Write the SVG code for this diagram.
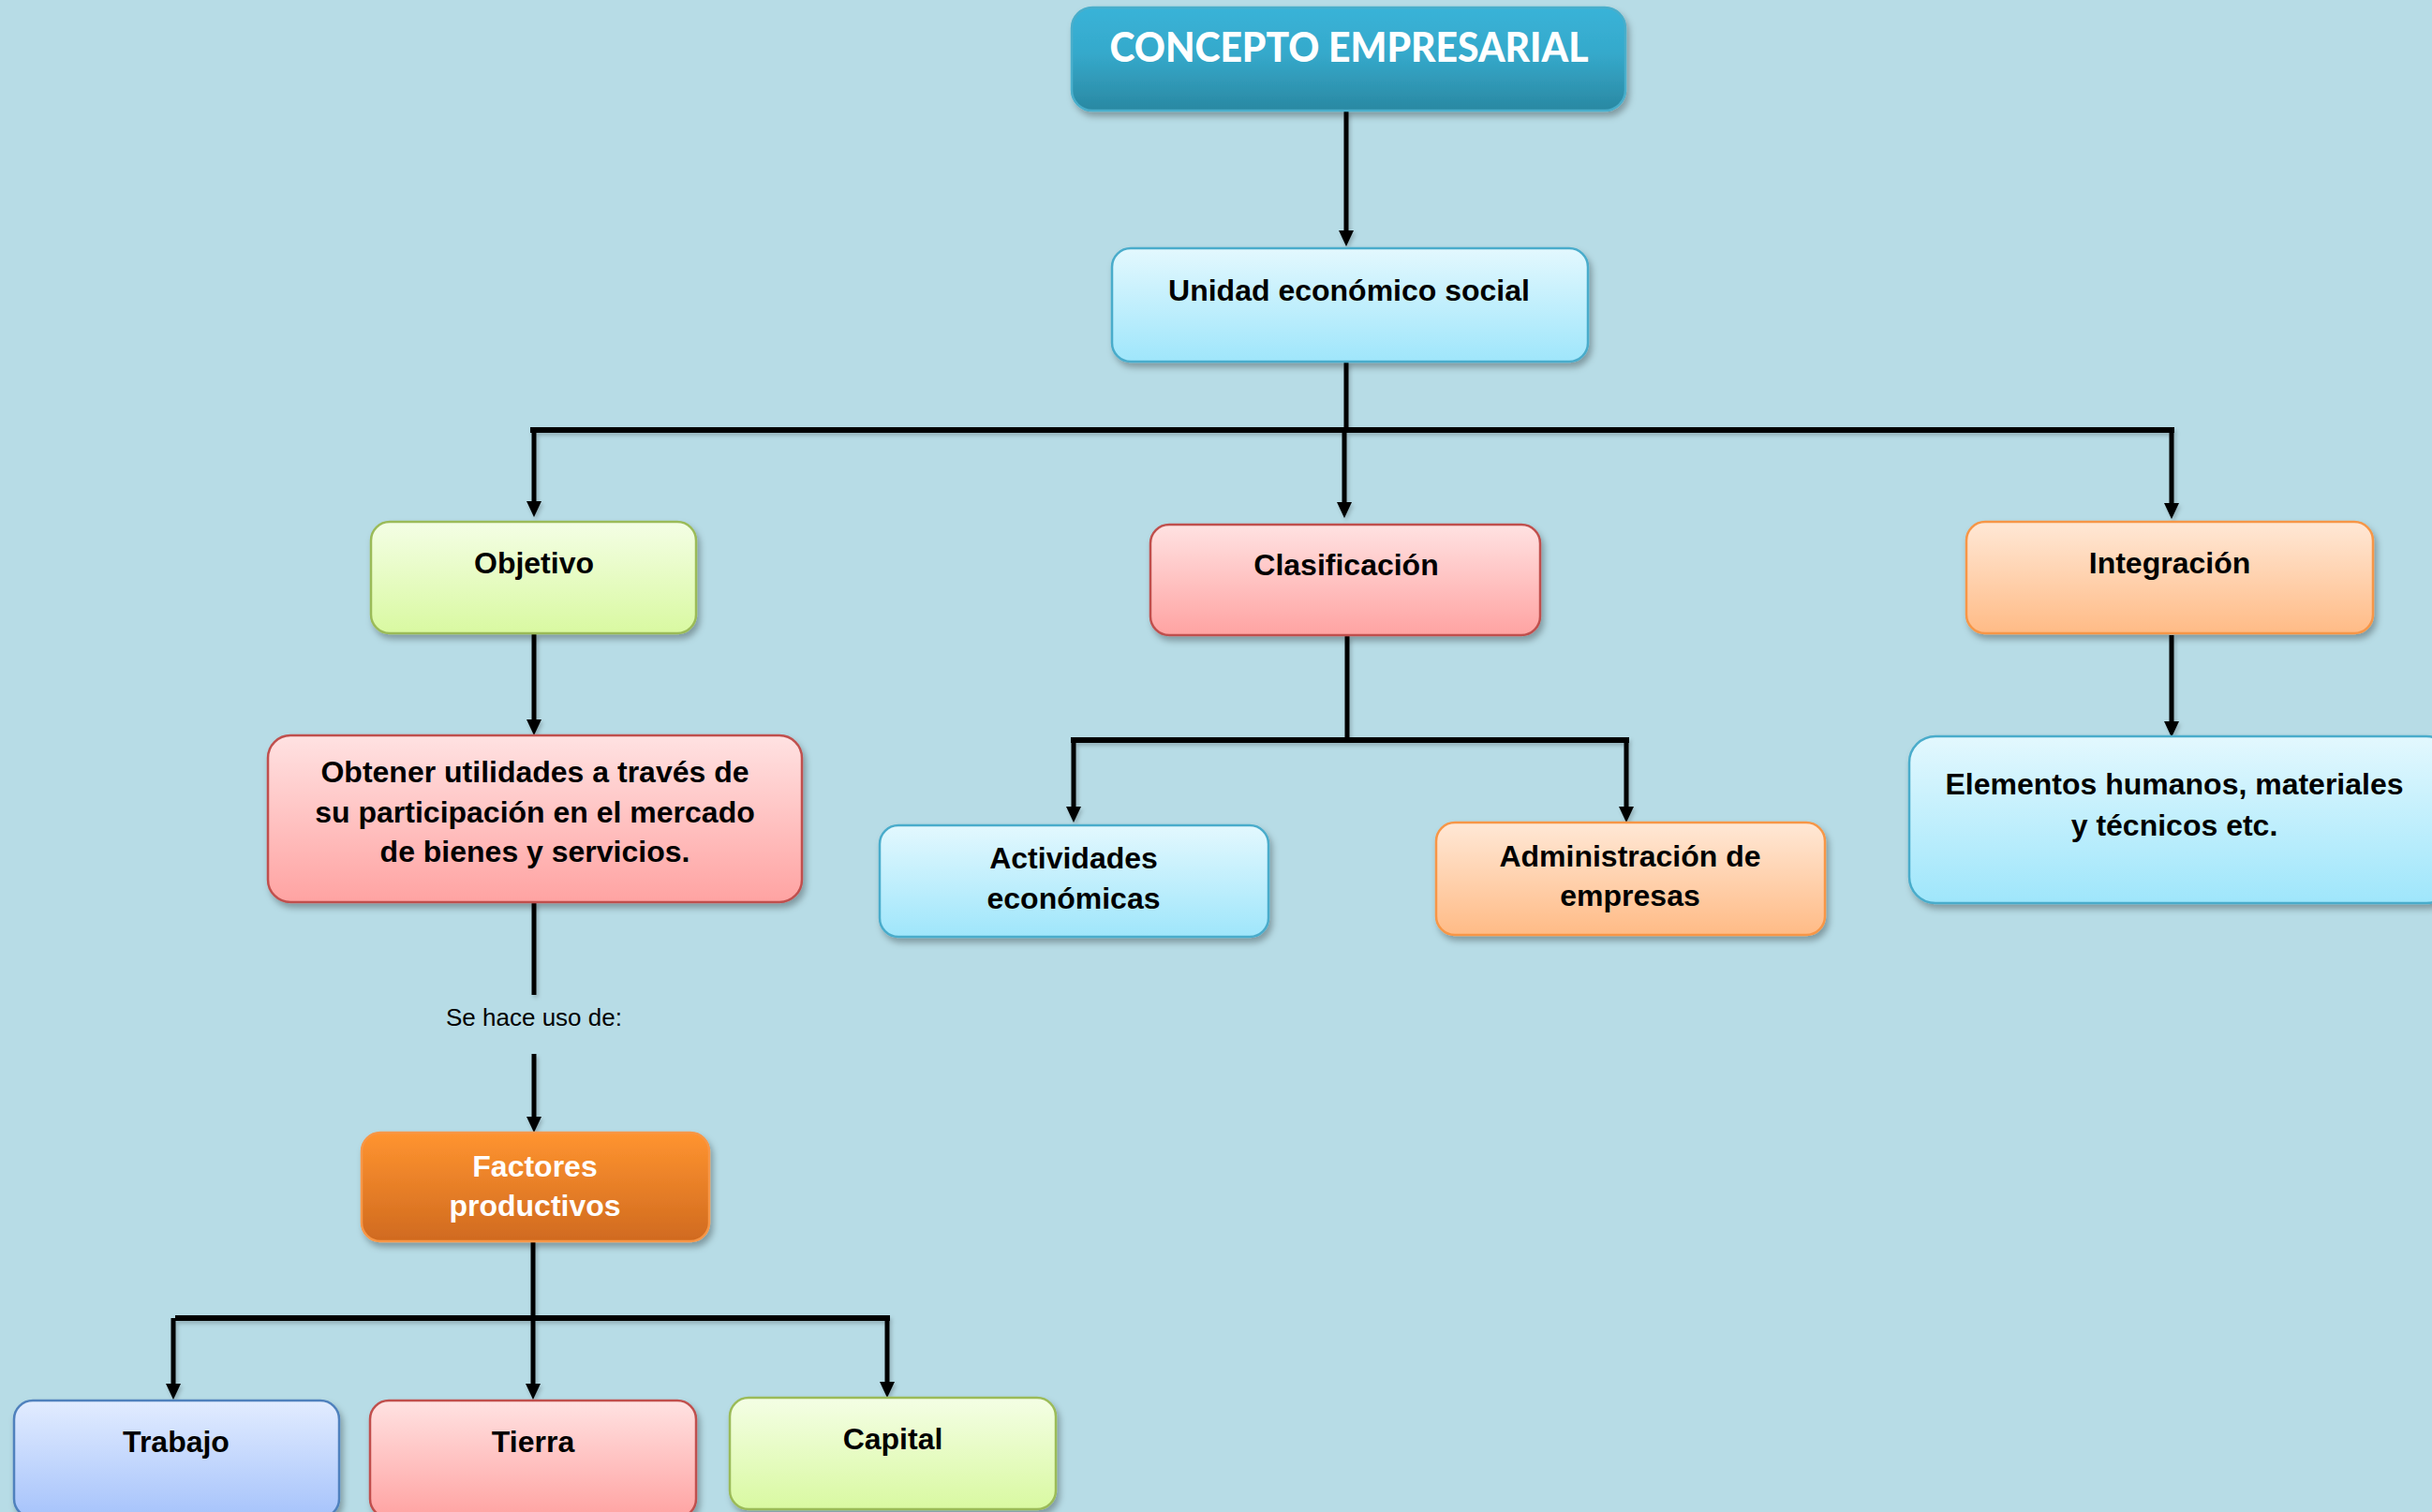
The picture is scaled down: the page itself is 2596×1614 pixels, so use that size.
<svg xmlns="http://www.w3.org/2000/svg" width="2596" height="1614" viewBox="0 0 2596 1614">
<defs>
<linearGradient id="gTitle" x1="0" y1="0" x2="0" y2="1"><stop offset="0" stop-color="#39b3d8"/><stop offset="0.45" stop-color="#35a9cb"/><stop offset="1" stop-color="#2a88a2"/></linearGradient>
<linearGradient id="gBlue" x1="0" y1="0" x2="0" y2="1"><stop offset="0" stop-color="#e3f8fe"/><stop offset="1" stop-color="#9fe6fb"/></linearGradient>
<linearGradient id="gGreen" x1="0" y1="0" x2="0" y2="1"><stop offset="0" stop-color="#f4fee5"/><stop offset="1" stop-color="#d9f9a1"/></linearGradient>
<linearGradient id="gRed" x1="0" y1="0" x2="0" y2="1"><stop offset="0" stop-color="#ffe2e2"/><stop offset="1" stop-color="#ffa3a2"/></linearGradient>
<linearGradient id="gOrange" x1="0" y1="0" x2="0" y2="1"><stop offset="0" stop-color="#ffe8d6"/><stop offset="1" stop-color="#ffbb86"/></linearGradient>
<linearGradient id="gDeep" x1="0" y1="0" x2="0" y2="1"><stop offset="0" stop-color="#ff9430"/><stop offset="1" stop-color="#d06a1f"/></linearGradient>
<linearGradient id="gLav" x1="0" y1="0" x2="0" y2="1"><stop offset="0" stop-color="#e2ecff"/><stop offset="1" stop-color="#a6c3fb"/></linearGradient>
<filter id="sh" x="-10%" y="-10%" width="130%" height="140%"><feDropShadow dx="3" dy="5" stdDeviation="3.5" flood-color="#000" flood-opacity="0.3"/></filter>
<filter id="lsh" x="-20%" y="-20%" width="140%" height="140%"><feDropShadow dx="2" dy="3" stdDeviation="2" flood-color="#000" flood-opacity="0.2"/></filter>
<marker id="ah" markerUnits="userSpaceOnUse" markerWidth="17" markerHeight="16" refX="4" refY="8" orient="auto"><path d="M0,0 L17,8 L0,16 z" fill="#000"/></marker>
</defs>
<style>
.box{stroke-width:2.5;filter:url(#sh)}
.blue{fill:url(#gBlue);stroke:#4aaccb}
.green{fill:url(#gGreen);stroke:#9bbb59}
.red{fill:url(#gRed);stroke:#c0504d}
.orange{fill:url(#gOrange);stroke:#f79646}
.deep{fill:url(#gDeep);stroke:#f79646}
.lav{fill:url(#gLav);stroke:#4f81bd}
.t{font-family:"Liberation Sans",Arial,sans-serif;font-weight:bold;font-size:32px;fill:#000;text-anchor:middle}
.w{fill:#fff}
.c{fill:none;stroke:#000;stroke-width:5}
.bar{fill:none;stroke:#000;stroke-width:6}
.a{marker-end:url(#ah)}
</style>
<rect width="2596" height="1614" fill="#b7dce6"/>

<g id="connectors" filter="url(#lsh)">
<path class="c a" d="M1437,118 V250"/>
<path class="c" d="M1437,386 V459"/>
<path class="bar" d="M566,459 H2321"/>
<path class="c a" d="M570,459 V539"/>
<path class="c a" d="M1435,459 V540"/>
<path class="c a" d="M2318,459 V541"/>
<path class="c a" d="M570,677 V772"/>
<path class="c" d="M1438,679 V790"/>
<path class="bar" d="M1143,790 H1739"/>
<path class="c a" d="M1146,790 V865"/>
<path class="c a" d="M1736,790 V865"/>
<path class="c a" d="M2318,678 V774"/>
<path class="c" d="M570,963 V1062"/>
<path class="c a" d="M570,1125 V1196"/>
<path class="c" d="M569,1325 V1407"/>
<path class="bar" d="M187,1407 H950"/>
<path class="c a" d="M185,1407 V1481"/>
<path class="c a" d="M569,1407 V1481"/>
<path class="c a" d="M947,1407 V1479"/>
</g>
<text x="570" y="1095" font-family="Liberation Sans,Arial,sans-serif" font-size="26" text-anchor="middle" fill="#000">Se hace uso de:</text>

<g id="n-title">
<rect x="1144" y="8" width="591" height="110" rx="22" fill="url(#gTitle)" stroke="#48aecb" stroke-width="2.5" filter="url(#sh)"/>
<text x="1440" y="66" font-family="Lato,'Liberation Sans',sans-serif" font-weight="900" font-size="44" fill="#fff" text-anchor="middle" textLength="511" lengthAdjust="spacingAndGlyphs">CONCEPTO EMPRESARIAL</text>
</g>
<g id="n-unidad">
<rect class="box blue" x="1187" y="265" width="508" height="121" rx="20"/>
<text class="t" x="1440" y="321">Unidad económico social</text>
</g>
<g id="n-objetivo">
<rect class="box green" x="396" y="557" width="347" height="119" rx="20"/>
<text class="t" x="570" y="612">Objetivo</text>
</g>
<g id="n-clasificacion">
<rect class="box red" x="1228" y="560" width="416" height="118" rx="20"/>
<text class="t" x="1437" y="614">Clasificación</text>
</g>
<g id="n-integracion">
<rect class="box orange" x="2099" y="557" width="434" height="119" rx="20"/>
<text class="t" x="2316" y="612">Integración</text>
</g>
<g id="n-obtener">
<rect class="box red" x="286" y="785" width="570" height="178" rx="24"/>
<text class="t" x="571" y="835">Obtener utilidades a través de</text>
<text class="t" x="571" y="878">su participación en el mercado</text>
<text class="t" x="571" y="920">de bienes y servicios.</text>
</g>
<g id="n-actividades">
<rect class="box blue" x="939" y="881" width="415" height="119" rx="20"/>
<text class="t" x="1146" y="927">Actividades</text>
<text class="t" x="1146" y="970">económicas</text>
</g>
<g id="n-admin">
<rect class="box orange" x="1533" y="878" width="415" height="120" rx="20"/>
<text class="t" x="1740" y="925">Administración de</text>
<text class="t" x="1740" y="967">empresas</text>
</g>
<g id="n-elementos">
<rect class="box blue" x="2038" y="786" width="580" height="178" rx="28"/>
<text class="t" x="2321" y="848">Elementos humanos, materiales</text>
<text class="t" x="2321" y="892">y técnicos etc.</text>
</g>
<g id="n-factores">
<rect class="box deep" x="386" y="1209" width="371" height="116" rx="20"/>
<text class="t w" x="571" y="1256">Factores</text>
<text class="t w" x="571" y="1298">productivos</text>
</g>
<g id="n-trabajo">
<rect class="box lav" x="15" y="1495" width="347" height="125" rx="20"/>
<text class="t" x="188" y="1550">Trabajo</text>
</g>
<g id="n-tierra">
<rect class="box red" x="395" y="1495" width="348" height="125" rx="20"/>
<text class="t" x="569" y="1550">Tierra</text>
</g>
<g id="n-capital">
<rect class="box green" x="779" y="1492" width="348" height="119" rx="20"/>
<text class="t" x="953" y="1547">Capital</text>
</g>
</svg>
